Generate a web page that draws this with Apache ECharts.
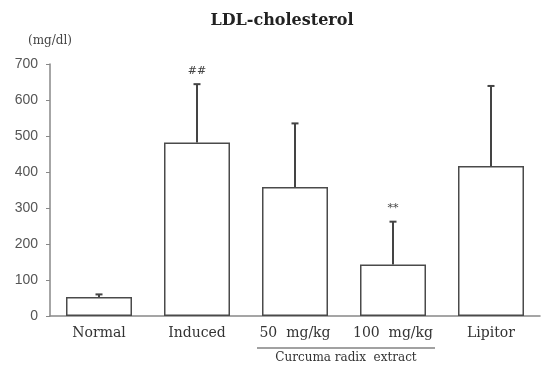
<!DOCTYPE html>
<html>
<head>
<meta charset="utf-8">
<script src="https://cdn.jsdelivr.net/npm/echarts@6/dist/echarts.min.js"></script>
<style>
  html, body { margin: 0; padding: 0; background: #fff; }
  #ldl { width: 541px; height: 369px; }
</style>
</head>
<body>
<div id="ldl"></div>
<script>
// values
var groups = ['Normal', 'Induced', '50  mg/kg', '100  mg/kg', 'Lipitor'];
var means = [53, 482, 358, 143, 417];
var sd = [7, 162, 177, 119, 222];
var marks = ['', '##', '', '**', ''];
var yTicks = [0, 100, 200, 300, 400, 500, 600, 700];

var serif = '"DejaVu Serif", "Liberation Serif", serif';
var ldl = echarts.init(document.getElementById('ldl'));

var option = {
  animation: false,
  title: {
    text: 'LDL-cholesterol',
    left: 277, top: 8, textAlign: 'center',
    textStyle: { fontFamily: serif, fontSize: 16, fontWeight: 'bold', color: '#222' }
  },
  grid: { left: 50, right: 1, top: 64, bottom: 53 },
  xAxis: {
    type: 'category',
    data: groups,
    axisLine: { lineStyle: { color: '#888', width: 1.5 } },
    axisTick: { show: false },
    axisLabel: { interval: 0, hideOverlap: false, fontFamily: serif, fontSize: 14, color: '#333', margin: 10 }
  },
  yAxis: {
    type: 'value',
    min: yTicks[0], max: yTicks[yTicks.length - 1], interval: 100,
    name: '(mg/dl)',
    nameLocation: 'end',
    nameGap: 17,
    nameTextStyle: { fontFamily: serif, fontSize: 12, color: '#444', align: 'center' },
    axisLine: { show: true, lineStyle: { color: '#888', width: 1.5 } },
    axisTick: { show: true, length: 4, lineStyle: { color: '#888' } },
    splitLine: { show: false },
    axisLabel: { fontFamily: '"Liberation Sans", Arial, sans-serif', fontSize: 14, color: '#555', margin: 12 }
  },
  series: [
    {
      type: 'bar',
      data: means,
      barWidth: 66,
      itemStyle: { color: '#fff', borderColor: '#4a4a4a', borderWidth: 1.5 },
      z: 2
    },
    {
      type: 'custom',
      z: 3,
      data: means.map(function (m, i) { return [i, m, m + sd[i]]; }),
      renderItem: function (params, api) {
        var i = api.value(0);
        var lo = api.coord([i, api.value(1)]);
        var hi = api.coord([i, api.value(2)]);
        var cap = 3.5;
        var kids = [
          { type: 'line', shape: { x1: lo[0], y1: lo[1], x2: hi[0], y2: hi[1] },
            style: { stroke: '#444', lineWidth: 2 } },
          { type: 'line', shape: { x1: hi[0] - cap, y1: hi[1], x2: hi[0] + cap, y2: hi[1] },
            style: { stroke: '#444', lineWidth: 2 } }
        ];
        if (marks[i]) {
          kids.push({ type: 'text', x: hi[0], y: hi[1] - 8,
            style: { text: marks[i], fill: '#444', fontSize: 11, fontFamily: serif,
                     align: 'center', verticalAlign: 'bottom' } });
        }
        return { type: 'group', children: kids };
      }
    }
  ]
};
ldl.setOption(option);

// bracket under the two extract doses
var p2 = ldl.convertToPixel({ xAxisIndex: 0 }, groups[2]);
var p3 = ldl.convertToPixel({ xAxisIndex: 0 }, groups[3]);
var bx1 = p2 - 38, bx2 = p3 + 42, by = 348;
ldl.setOption({
  graphic: [
    { type: 'line', shape: { x1: bx1, y1: by, x2: bx2, y2: by },
      style: { stroke: '#444', lineWidth: 1.2 } },
    { type: 'text', x: (bx1 + bx2) / 2, y: by + 4,
      style: { text: 'Curcuma radix  extract', fontFamily: serif, fontSize: 12,
               fill: '#333', align: 'center', verticalAlign: 'top' } }
  ]
});
</script>
</body>
</html>
